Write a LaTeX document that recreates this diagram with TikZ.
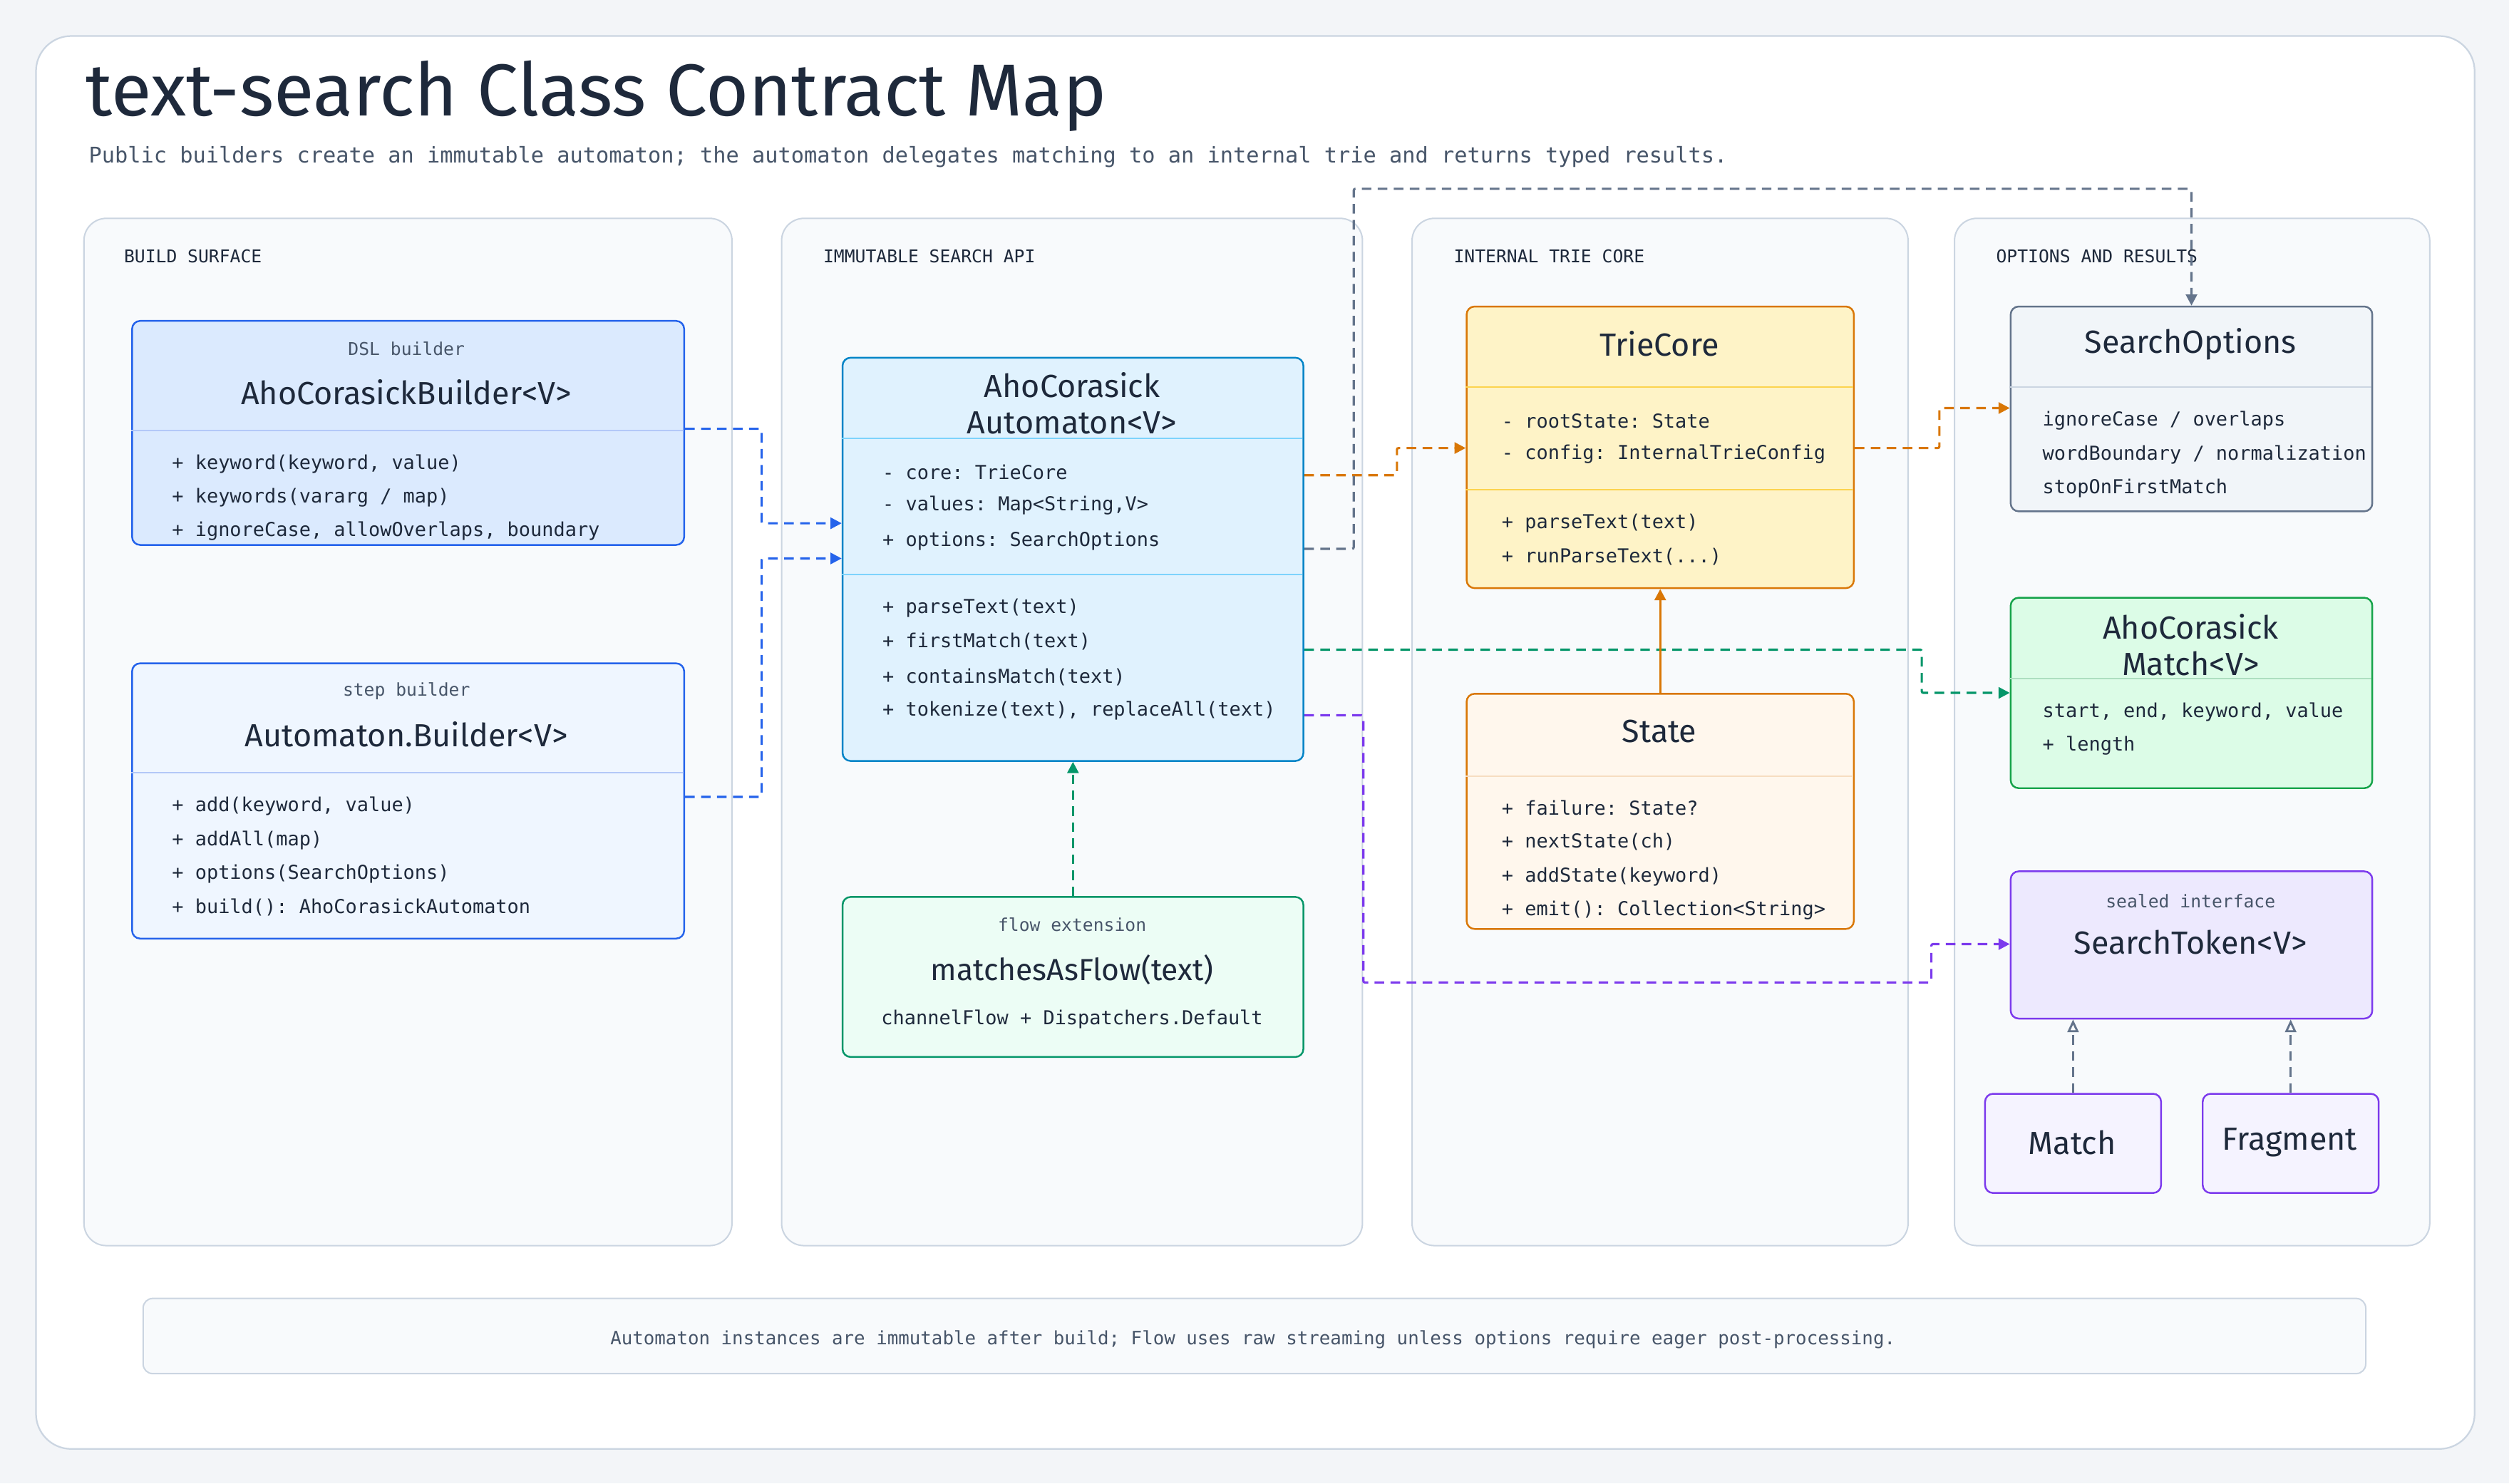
\documentclass[tikz,border=0pt]{standalone}
\usepackage{fontspec}
\setmainfont{Fira Sans}
\setmonofont{DejaVu Sans Mono}
\usetikzlibrary{arrows.meta}
\definecolor{pagebg}{HTML}{F3F5F8}
\definecolor{ink}{HTML}{1E293B}
\definecolor{sub}{HTML}{475569}
\definecolor{lanebd}{HTML}{CBD5E1}
\definecolor{lanebg}{HTML}{F8FAFC}
\definecolor{bluebd}{HTML}{2563EB}
\definecolor{bluebg}{HTML}{DBEAFE}
\definecolor{bluebg2}{HTML}{EFF6FF}
\definecolor{skybd}{HTML}{0284C7}
\definecolor{skybg}{HTML}{E0F2FE}
\definecolor{skysep}{HTML}{7DD3FC}
\definecolor{grnbd}{HTML}{059669}
\definecolor{grnbg}{HTML}{ECFDF5}
\definecolor{orbd}{HTML}{D97706}
\definecolor{orbg}{HTML}{FEF3C7}
\definecolor{orbg2}{HTML}{FFF7ED}
\definecolor{orsep}{HTML}{FCD34D}
\definecolor{slbd}{HTML}{64748B}
\definecolor{slbg}{HTML}{F1F5F9}
\definecolor{mgbd}{HTML}{16A34A}
\definecolor{mgbg}{HTML}{DCFCE7}
\definecolor{pubd}{HTML}{7C3AED}
\definecolor{pubg}{HTML}{EDE9FE}
\definecolor{pubg2}{HTML}{F5F3FF}
\definecolor{edgeor}{HTML}{D97706}
\definecolor{edgegr}{HTML}{059669}
\definecolor{edgebl}{HTML}{2563EB}
\definecolor{edgesl}{HTML}{64748B}
\definecolor{edgepu}{HTML}{7C3AED}
\tikzset{
  box/.style={draw, rounded corners=5pt, line width=1.1pt, inner sep=0pt, anchor=north west},
  lane/.style={draw=lanebd, fill=lanebg, rounded corners=14pt, line width=0.9pt, inner sep=0pt, anchor=north west},
  lanelbl/.style={font=\ttfamily\fontsize{11}{12}\selectfont, text=ink, anchor=west},
  cname/.style={font=\fontsize{20}{22}\selectfont, text=ink},
  stereo/.style={font=\ttfamily\fontsize{11}{13}\selectfont, text=sub},
  item/.style={font=\ttfamily\fontsize{12}{14}\selectfont, text=ink, anchor=west},
  dep/.style={dashed, dash pattern=on 6pt off 4pt, line width=1.4pt, -{Triangle[length=7pt,width=7pt]}, rounded corners=1pt},
  real/.style={dashed, dash pattern=on 6pt off 4pt, line width=1.3pt, draw=edgesl, -{Triangle[open,length=8pt,width=7pt]}},
}
\newcommand{\cbox}[6]{\node[box,#6,minimum width=#4pt-#2pt,minimum height=#5pt-#3pt] (#1) at (#2,#3) {};}
\begin{document}
\begin{tikzpicture}[x=1pt,y=-1pt]
\fill[pagebg] (0,0) rectangle (1568,927);
\useasboundingbox (0,0) rectangle (1568,927);
\node[draw=lanebd, fill=white, rounded corners=22pt, line width=1pt, minimum width=1524pt, minimum height=883pt, anchor=north west, inner sep=0pt] (frame) at (22,22) {};
\node[anchor=west, font=\fontsize{46}{48}\selectfont, text=ink] (title) at (50,60) {text-search Class Contract Map};
\node[anchor=west, font=\ttfamily\fontsize{13.5}{15}\selectfont, text=sub] (subtitle) at (52,98) {Public builders create an immutable automaton; the automaton delegates matching to an internal trie and returns typed results.};
% lanes
\node[lane, minimum width=405pt, minimum height=642pt] (lane1) at (52,136) {};
\node[lane, minimum width=363pt, minimum height=642pt] (lane2) at (488,136) {};
\node[lane, minimum width=310pt, minimum height=642pt] (lane3) at (882,136) {};
\node[lane, minimum width=297pt, minimum height=642pt] (lane4) at (1221,136) {};
\node[lanelbl] (l1) at (74,160) {BUILD SURFACE};
\node[lanelbl] (l2) at (511,160) {IMMUTABLE SEARCH API};
\node[lanelbl] (l3) at (905,160) {INTERNAL TRIE CORE};
\node[lanelbl] (l4) at (1244,160) {OPTIONS AND RESULTS};
% note
\node[draw=lanebd, fill=lanebg, rounded corners=6pt, line width=0.9pt, minimum width=1389pt, minimum height=47pt, anchor=north west, inner sep=0pt] (note) at (89,811) {};
\node[font=\ttfamily\fontsize{11.5}{13}\selectfont, text=sub] (notetxt) at (783,837) {Automaton instances are immutable after build; Flow uses raw streaming unless options require eager post-processing.};
% AhoCorasickBuilder
\cbox{acb}{82}{200}{427}{340}{draw=bluebd, fill=bluebg}
\draw[bluebd!35, line width=0.8pt] (82,269) -- (427,269);
\node[stereo] (acbs) at (254,218) {DSL builder};
\node[cname] (acbn) at (254,245) {AhoCorasickBuilder<V>};
\node[item] (acb1) at (104,290) {+ keyword(keyword, value)};
\node[item] (acb2) at (104,311) {+ keywords(vararg / map)};
\node[item] (acb3) at (104,332) {+ ignoreCase, allowOverlaps, boundary};
% Automaton.Builder
\cbox{ab}{82}{414}{427}{586}{draw=bluebd, fill=bluebg2}
\draw[bluebd!35, line width=0.8pt] (82,483) -- (427,483);
\node[stereo] (abs) at (254,432) {step builder};
\node[cname] (abn) at (254,459) {Automaton.Builder<V>};
\node[item] (ab1) at (104,504) {+ add(keyword, value)};
\node[item] (ab2) at (104,525) {+ addAll(map)};
\node[item] (ab3) at (104,546) {+ options(SearchOptions)};
\node[item] (ab4) at (104,567) {+ build(): AhoCorasickAutomaton};
% Automaton
\cbox{aut}{526}{223}{814}{475}{draw=skybd, fill=skybg}
\draw[skysep, line width=0.8pt] (526,274) -- (814,274);
\draw[skysep, line width=0.8pt] (526,359) -- (814,359);
\node[cname, align=center, font=\fontsize{20}{23}\selectfont] (autn) at (670,252) {AhoCorasick\\Automaton<V>};
\node[item] (aut1) at (548,295) {- core: TrieCore};
\node[item] (aut2) at (548,316) {- values: Map<String,V>};
\node[item] (aut3) at (548,338) {+ options: SearchOptions};
\node[item] (aut4) at (548,380) {+ parseText(text)};
\node[item] (aut5) at (548,401) {+ firstMatch(text)};
\node[item] (aut6) at (548,423) {+ containsMatch(text)};
\node[item] (aut7) at (548,444) {+ tokenize(text), replaceAll(text)};
% flow
\cbox{flow}{526}{560}{814}{660}{draw=grnbd, fill=grnbg}
\node[stereo] (flows) at (670,578) {flow extension};
\node[cname, font=\fontsize{19}{21}\selectfont] (flown) at (670,606) {matchesAsFlow(text)};
\node[font=\ttfamily\fontsize{12}{14}\selectfont, text=ink] (flow1) at (670,637) {channelFlow + Dispatchers.Default};
% TrieCore
\cbox{trie}{916}{191}{1158}{367}{draw=orbd, fill=orbg}
\draw[orsep, line width=0.8pt] (916,242) -- (1158,242);
\draw[orsep, line width=0.8pt] (916,306) -- (1158,306);
\node[cname] (trien) at (1037,215) {TrieCore};
\node[item] (trie1) at (935,263) {- rootState: State};
\node[item] (trie2) at (935,284) {- config: InternalTrieConfig};
\node[item] (trie3) at (935,327) {+ parseText(text)};
\node[item] (trie4) at (935,348) {+ runParseText(...)};
% State
\cbox{state}{916}{433}{1158}{580}{draw=orbd, fill=orbg2}
\draw[orbd!25, line width=0.8pt] (916,485) -- (1158,485);
\node[cname] (staten) at (1037,457) {State};
\node[item] (st1) at (935,505) {+ failure: State?};
\node[item] (st2) at (935,526) {+ nextState(ch)};
\node[item] (st3) at (935,548) {+ addState(keyword)};
\node[item] (st4) at (935,569) {+ emit(): Collection<String>};
% SearchOptions
\cbox{opt}{1256}{191}{1482}{319}{draw=slbd, fill=slbg}
\draw[lanebd, line width=0.8pt] (1256,242) -- (1482,242);
\node[cname] (optn) at (1369,215) {SearchOptions};
\node[item] (opt1) at (1273,263) {ignoreCase / overlaps};
\node[item] (opt2) at (1273,284) {wordBoundary / normalization};
\node[item] (opt3) at (1273,305) {stopOnFirstMatch};
% Match<V>
\cbox{mat}{1256}{373}{1482}{492}{draw=mgbd, fill=mgbg}
\draw[mgbd!35, line width=0.8pt] (1256,424) -- (1482,424);
\node[cname, align=center, font=\fontsize{20}{23}\selectfont] (matn) at (1369,403) {AhoCorasick\\Match<V>};
\node[item] (mat1) at (1273,445) {start, end, keyword, value};
\node[item] (mat2) at (1273,466) {+ length};
% SearchToken
\cbox{tok}{1256}{544}{1482}{636}{draw=pubd, fill=pubg}
\node[stereo] (toks) at (1369,563) {sealed interface};
\node[cname] (tokn) at (1369,589) {SearchToken<V>};
\cbox{m}{1240}{683}{1350}{745}{draw=pubd, fill=pubg2}
\node[cname] (mn) at (1295,714) {Match};
\cbox{f}{1376}{683}{1486}{745}{draw=pubd, fill=pubg2}
\node[cname] (fn) at (1431,714) {Fragment};
% edges
\draw[dep, draw=edgebl] (acb.east |- 0,268) -| (476,327) -- (aut.west |- 0,327);
\draw[dep, draw=edgebl] (ab.east |- 0,498) -| (476,349) -- (aut.west |- 0,349);
\draw[dep, draw=edgeor] (aut.east |- 0,297) -| (873,280) -- (trie.west |- 0,280);
\draw[dep, draw=edgesl] (aut.east |- 0,343) -| (846,118) -| (opt.north);
\draw[dep, draw=edgegr] (aut.east |- 0,406) -| (1201,433) -- (mat.west |- 0,433);
\draw[dep, draw=edgepu] (aut.east |- 0,447) -| (852,614) -| (1207,590) -- (tok.west |- 0,590);
\draw[dep, draw=edgeor] (trie.east |- 0,280) -| (1212,255) -- (opt.west |- 0,255);
\draw[line width=1.4pt, draw=edgeor, -{Triangle[length=7pt,width=7pt]}] (state.north) -- (trie.south);
\draw[dep, draw=edgegr] (flow.north) -- (aut.south);
\draw[real] (m.north) -- (m.north |- tok.south);
\draw[real] (f.north) -- (f.north |- tok.south);
\end{tikzpicture}
\end{document}
